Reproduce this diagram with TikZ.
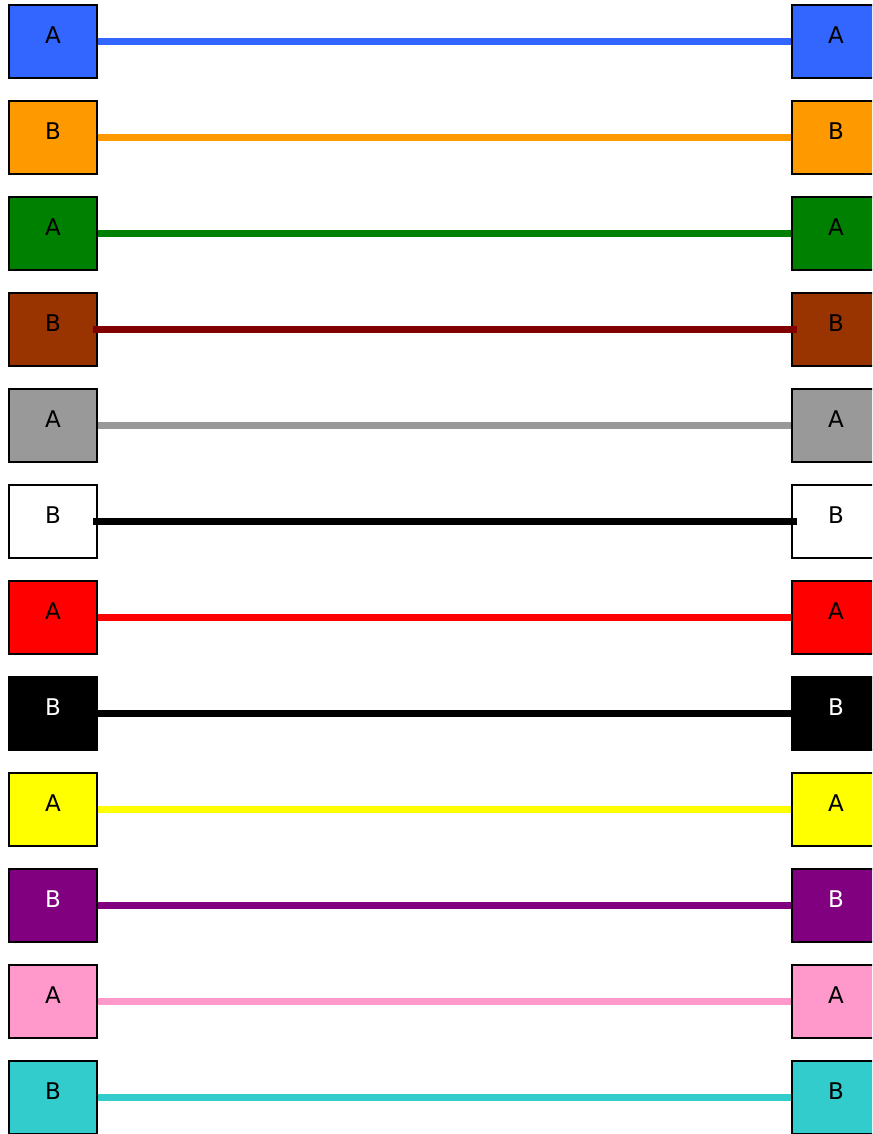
\documentclass[tikz,border=0pt]{standalone}
\usepackage{fontspec}
\setmainfont{DejaVu Sans}
\usetikzlibrary{backgrounds}
\definecolor{cblue}{HTML}{3366FF}
\definecolor{corange}{HTML}{FF9900}
\definecolor{cgreen}{HTML}{008000}
\definecolor{cbrown}{HTML}{993300}
\definecolor{cdred}{HTML}{800000}
\definecolor{cgray}{HTML}{999999}
\definecolor{cred}{HTML}{FF0000}
\definecolor{cyellow}{HTML}{FFFF00}
\definecolor{cpurple}{HTML}{800080}
\definecolor{cpink}{HTML}{FF99CC}
\definecolor{cteal}{HTML}{33CCCC}
\tikzset{
  box/.style={draw=black, line width=1.5pt, minimum width=88pt, minimum height=73pt, inner sep=0pt, outer sep=0pt},
  txt/.style={font=\fontsize{23}{27}\selectfont},
  wire/.style={line width=7pt},
  overwire/.style={line width=7pt, shorten <=-4pt, shorten >=-5pt},
}
\begin{document}
\begin{tikzpicture}[x=1pt,y=-1pt]
\useasboundingbox (0,0) rectangle (872,1134);
\clip (0,0) rectangle (872,1134);
\foreach \i/\fc/\t/\tc in {
  0/cblue/A/black,
  1/corange/B/black,
  2/cgreen/A/black,
  3/cbrown/B/black,
  4/cgray/A/black,
  5/white/B/black,
  6/cred/A/black,
  7/black/B/white,
  8/cyellow/A/black,
  9/cpurple/B/white,
  10/cpink/A/black,
  11/cteal/B/black}{
  \pgfmathsetmacro{\yc}{41.5+96*\i}
  \node[box, fill=\fc, label={[txt, text=\tc, yshift=6.5pt]center:\t}] (L\i) at (53,\yc) {};
  \node[box, fill=\fc, label={[txt, text=\tc, yshift=6.5pt]center:\t}] (R\i) at (836,\yc) {};
}
\begin{scope}[on background layer]
\foreach \i/\lc in {0/cblue,1/corange,2/cgreen,4/cgray,6/cred,7/black,8/cyellow,9/cpurple,10/cpink,11/cteal}{
  \draw[wire, draw=\lc] (L\i.center) -- (R\i.center);
}
\end{scope}
\draw[overwire, draw=cdred] (L3.east) -- (R3.west);
\draw[overwire, draw=black] (L5.east) -- (R5.west);
\end{tikzpicture}
\end{document}
